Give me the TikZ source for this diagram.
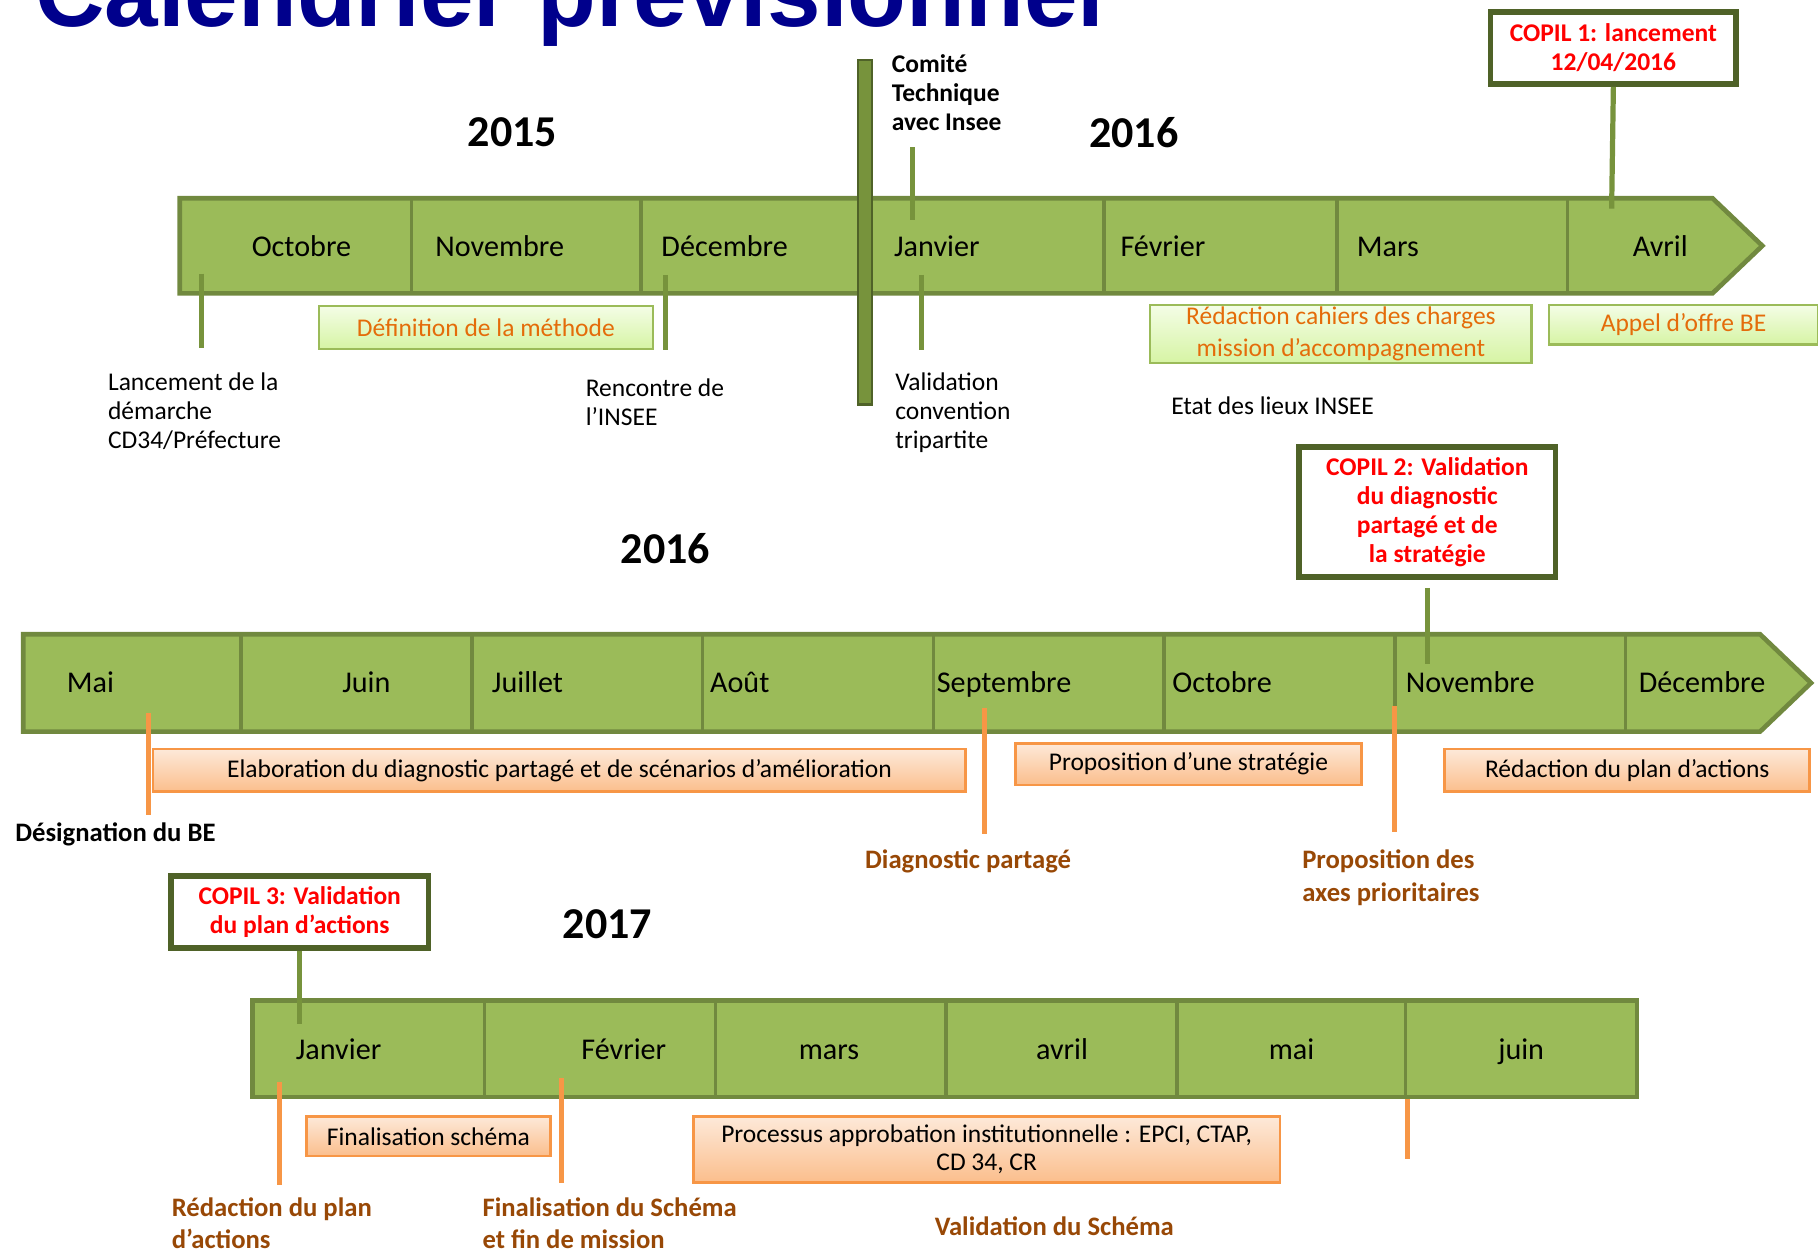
\documentclass[tikz,border=0pt]{standalone}
\usepackage{fontspec}
\setmainfont{Carlito}
\newfontfamily\titlefont{Liberation Sans}

\definecolor{barfill}{RGB}{155,187,89}
\definecolor{barline}{RGB}{113,137,63}
\definecolor{tickgreen}{RGB}{119,147,60}
\definecolor{copilline}{RGB}{79,98,40}
\definecolor{tickorange}{RGB}{247,150,70}
\definecolor{textorange}{RGB}{228,108,10}
\definecolor{textbrown}{RGB}{152,72,6}
\definecolor{titleblue}{RGB}{0,0,140}
\definecolor{greentop}{RGB}{244,253,230}
\definecolor{greenbot}{RGB}{214,244,164}
\definecolor{orangetop}{RGB}{253,233,217}
\definecolor{orangebot}{RGB}{251,190,140}

\tikzset{
  titletext/.style={anchor=base west, inner sep=0pt, text=titleblue, font=\titlefont\bfseries\fontsize{83}{90}\selectfont},
  timebar/.style={fill=barfill, draw=barline, line width=4pt},
  divider/.style={draw=barline, line width=3pt},
  monthlbl/.style={font=\fontsize{26}{28}\selectfont, text height=13pt, text depth=5pt, inner sep=0pt},
  yearlbl/.style={font=\bfseries\fontsize{38}{40}\selectfont, inner sep=0pt},
  gtick/.style={draw=tickgreen, line width=4.5pt},
  otick/.style={draw=tickorange, line width=4.5pt},
  gbox/.style={draw=barfill, line width=2pt, top color=greentop, bottom color=greenbot, text=textorange, font=\fontsize{22}{27}\selectfont, align=center, inner sep=0pt},
  obox/.style={draw=tickorange, line width=2.5pt, top color=orangetop, bottom color=orangebot, font=\fontsize{22}{25}\selectfont, align=center, inner sep=0pt},
  copil/.style={draw=copilline, line width=5pt, fill=white, text=red, font=\bfseries\fontsize{22}{25}\selectfont, align=center, inner sep=0pt},
  note/.style={font=\fontsize{22}{25}\selectfont, align=left, anchor=west, inner sep=0pt},
  milestone/.style={font=\bfseries\fontsize{23}{28}\selectfont, text=textbrown, align=left, anchor=west, inner sep=0pt}
}

\begin{document}
\begin{tikzpicture}[x=1pt,y=-1pt,line join=miter]
\useasboundingbox (0,0) rectangle (1568,1081);
\clip (0,0) rectangle (1568,1081);

\node[titletext] (title) at (30,23) {Calendrier prévisionnel};

% frise 2015 - 2016
\draw[timebar] (155,171) -- (1477,171) -- (1520,212) -- (1477,253) -- (155,253) -- cycle;
\draw[divider] (355,171) -- (355,253);
\draw[divider] (553,171) -- (553,253);
\draw[divider] (750,171) -- (750,253);
\draw[divider] (952,171) -- (952,253);
\draw[divider] (1153,171) -- (1153,253);
\draw[divider] (1352,171) -- (1352,253);

\node[yearlbl] (y2015) at (442,114) {2015};
\node[yearlbl] (y2016a) at (978,114) {2016};

\node[monthlbl] (oct15) at (260,217) {Octobre};
\node[monthlbl] (nov15) at (431,217) {Novembre};
\node[monthlbl] (dec15) at (625,217) {Décembre};
\node[monthlbl] (jan16) at (808,217) {Janvier};
\node[monthlbl] (fev16) at (1003,217) {Février};
\node[monthlbl] (mar16) at (1197,217) {Mars};
\node[monthlbl] (avr16) at (1432,217) {Avril};

\draw[fill=tickgreen, draw=copilline, line width=2pt] (740,52) rectangle (752,349);

\draw[gtick] (787,127) -- (787,190);
\draw[gtick] (174,236) -- (174,300);
\draw[gtick] (574,237) -- (574,302);
\draw[gtick] (795,237) -- (795,302);

\node[copil, minimum width=212, minimum height=62] (copil1) at (1391.5,41.5) {COPIL 1: lancement\\12/04/2016};
\draw[gtick] (copil1.south) -- (1390,180);

\node[gbox, minimum width=288, minimum height=37] (methode) at (419,282.5) {Définition de la méthode};
\node[gbox, minimum width=329, minimum height=50] (cahiers) at (1156.5,288) {Rédaction cahiers des charges\\mission d’accompagnement};
\node[gbox, minimum width=232, minimum height=34] (appel) at (1452,280) {Appel d’offre BE};

\node[note, font=\bfseries\fontsize{22}{25}\selectfont] (comite) at (769,80) {Comité\\Technique\\avec Insee};
\node[note] (lancement) at (93,355) {Lancement de la\\démarche\\CD34/Préfecture};
\node[note] (rencontre) at (505,346.5) {Rencontre de\\l’INSEE};
\node[note] (convention) at (772,356) {Validation\\convention\\tripartite};
\node[note] (etat) at (1010,350) {Etat des lieux INSEE};

% frise 2016
\draw[timebar] (20,547) -- (1518,547) -- (1562,589) -- (1518,631) -- (20,631) -- cycle;
\draw[divider] (208,547) -- (208,631);
\draw[divider] (407,547) -- (407,631);
\draw[divider] (606,547) -- (606,631);
\draw[divider] (805,547) -- (805,631);
\draw[divider] (1004,547) -- (1004,631);
\draw[divider] (1203,547) -- (1203,631);
\draw[divider] (1402,547) -- (1402,631);

\node[yearlbl] (y2016b) at (574,473) {2016};

\node[monthlbl] (mai16) at (78,593) {Mai};
\node[monthlbl] (juin16) at (316,593) {Juin};
\node[monthlbl] (juil16) at (455,593) {Juillet};
\node[monthlbl] (aou16) at (638,593) {Août};
\node[monthlbl] (sep16) at (866,593) {Septembre};
\node[monthlbl] (oct16) at (1054,593) {Octobre};
\node[monthlbl] (nov16) at (1268,593) {Novembre};
\node[monthlbl] (dec16) at (1468,593) {Décembre};

\node[copil, minimum width=221, minimum height=112] (copil2) at (1231,441.5) {COPIL 2: Validation\\du diagnostic\\partagé et de\\ la stratégie};
\draw[gtick, shorten <=7pt] (copil2.south) -- (1231,573);

\draw[otick] (128,615) -- (128,703);
\draw[otick] (849,611) -- (849,719);
\draw[otick] (1203,609) -- (1203,718);

\node[obox, minimum width=701, minimum height=37] (elaboration) at (482.5,664.5) {Elaboration du diagnostic partagé et de scénarios d’amélioration};
\node[obox, minimum width=298, minimum height=36] (strategie) at (1025,659) {Proposition d’une stratégie};
\node[obox, minimum width=315, minimum height=37] (plan) at (1403.5,664.5) {Rédaction du plan d’actions};

\node[note, font=\bfseries\fontsize{23}{28}\selectfont] (designation) at (13,720) {Désignation du BE};
\node[milestone] (diagnostic) at (746,743) {Diagnostic partagé};
\node[milestone] (axes) at (1123,757) {Proposition des\\axes prioritaires};

% frise 2017
\draw[timebar] (218,863) rectangle (1412,946);
\draw[divider] (418,863) -- (418,946);
\draw[divider] (617,863) -- (617,946);
\draw[divider] (816,863) -- (816,946);
\draw[divider] (1015,863) -- (1015,946);
\draw[divider] (1212,863) -- (1212,946);

\node[yearlbl] (y2017) at (524,797) {2017};

\node[monthlbl] (jan17) at (292,910) {Janvier};
\node[monthlbl] (fev17) at (538,910) {Février};
\node[monthlbl] (mar17) at (715,910) {mars};
\node[monthlbl] (avr17) at (916,910) {avril};
\node[monthlbl] (mai17) at (1114,910) {mai};
\node[monthlbl] (juin17) at (1312,910) {juin};

\node[copil, minimum width=222, minimum height=62] (copil3) at (258.5,786.5) {COPIL 3: Validation\\du plan d’actions};
\draw[gtick] (copil3.south) -- (258.5,883);

\draw[otick] (241,933) -- (241,1022);
\draw[otick] (484,930) -- (484,1020);
\draw[otick] (1214,948) -- (1214,1000);

\node[obox, minimum width=211, minimum height=34] (finalschema) at (369.5,980) {Finalisation schéma};
\node[obox, minimum width=506, minimum height=57, font=\fontsize{22}{24}\selectfont] (processus) at (851,991.5) {Processus approbation institutionnelle : EPCI, CTAP,\\CD 34, CR};

\node[milestone] (redaction) at (148,1055) {Rédaction du plan\\d’actions};
\node[milestone] (finalisation) at (416,1055) {Finalisation du Schéma\\et fin de mission};
\node[milestone] (validation) at (806,1058) {Validation du Schéma};
\end{tikzpicture}
\end{document}
